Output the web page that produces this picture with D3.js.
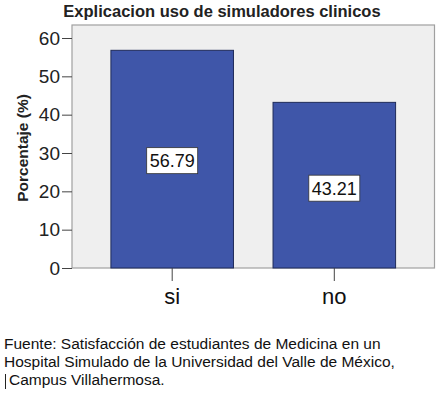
<!DOCTYPE html>
<html><head><meta charset="utf-8">
<script src="https://cdn.jsdelivr.net/npm/d3@7"></script>
<style>body{margin:0;background:#fff}svg{display:block}</style>
</head><body>
<script>
const categories = ["si", "no"];
const values = [56.79, 43.21];
const yTicks = [0, 10, 20, 30, 40, 50, 60];
const title = "Explicacion uso de simuladores clinicos";
const yTitle = "Porcentaje (%)";
const footer = ["Fuente: Satisfacción de estudiantes de Medicina en un",
  "Hospital Simulado de la Universidad del Valle de México,",
  "Campus Villahermosa."];

const W = 440, H = 394;
const font = "Liberation Sans, Arial, sans-serif";
const svg = d3.select("body").append("svg").attr("width", W).attr("height", H);

const frame = {x0: 72, x1: 434.5, y0: 25, y1: 268};
const y = d3.scaleLinear().domain([0, 60]).range([268, 38]);
const x = d3.scaleBand().domain(categories).range([frame.x0, frame.x1]).paddingInner(0.244).paddingOuter(0.24);

svg.append("rect").attr("x", frame.x0).attr("y", frame.y0)
  .attr("width", frame.x1 - frame.x0).attr("height", frame.y1 - frame.y0)
  .attr("fill", "#efefef").attr("stroke", "#a0a0a0").attr("stroke-width", 1.2);

svg.selectAll(".bar").data(values).enter().append("rect")
  .attr("x", (d, i) => x(categories[i]))
  .attr("y", d => y(d))
  .attr("width", x.bandwidth())
  .attr("height", d => y(0) - y(d))
  .attr("fill", "#3f56a9").attr("stroke", "#1f2b5a").attr("stroke-width", 1);

// labels
values.forEach((v, i) => {
  const cx = x(categories[i]) + x.bandwidth() / 2;
  const cy = y(v / 2) + (i === 1 ? 3 : 1.5);
  const g = svg.append("g");
  g.append("rect").attr("x", cx - 25.5).attr("y", cy - 13).attr("width", 51).attr("height", 26)
    .attr("fill", "#fff").attr("stroke", "#333").attr("stroke-width", 0.8);
  g.append("text").attr("x", cx).attr("y", cy + 6.5).attr("text-anchor", "middle")
    .attr("font-family", font).attr("font-size", 18).attr("fill", "#111").text(v.toFixed(2));
});

// y axis
const ya = svg.append("g").attr("transform", `translate(${frame.x0},0)`)
  .call(d3.axisLeft(y).tickValues(yTicks).tickSize(10).tickPadding(2));
ya.select(".domain").remove();
ya.selectAll("line").attr("stroke", "#444");
ya.selectAll("text").attr("font-family", font).attr("font-size", 19).attr("fill", "#222");

// x axis
const xa = svg.append("g").attr("transform", `translate(0,${frame.y1})`)
  .call(d3.axisBottom(x).tickSize(13).tickPadding(7));
xa.select(".domain").remove();
xa.selectAll("line").attr("stroke", "#444");
xa.selectAll("text").attr("font-family", font).attr("font-size", 22).attr("fill", "#111");

svg.append("text").attr("x", 222).attr("y", 17).attr("text-anchor", "middle")
  .attr("font-family", font).attr("font-weight", "bold").attr("font-size", 16.5).attr("fill", "#222").text(title);

svg.append("text").attr("transform", "translate(28,148) rotate(-90)").attr("text-anchor", "middle")
  .attr("font-family", font).attr("font-weight", "bold").attr("font-size", 15.5).attr("fill", "#222").text(yTitle);

footer.forEach((t, i) => {
  svg.append("text").attr("x", i === 2 ? 9 : 4).attr("y", 349 + i * 18)
    .attr("font-family", font).attr("font-size", 15.5).attr("fill", "#111").text(t);
});
svg.append("line").attr("x1", 5.5).attr("x2", 5.5).attr("y1", 374).attr("y2", 389).attr("stroke", "#222").attr("stroke-width", 1);
</script>
</body></html>
